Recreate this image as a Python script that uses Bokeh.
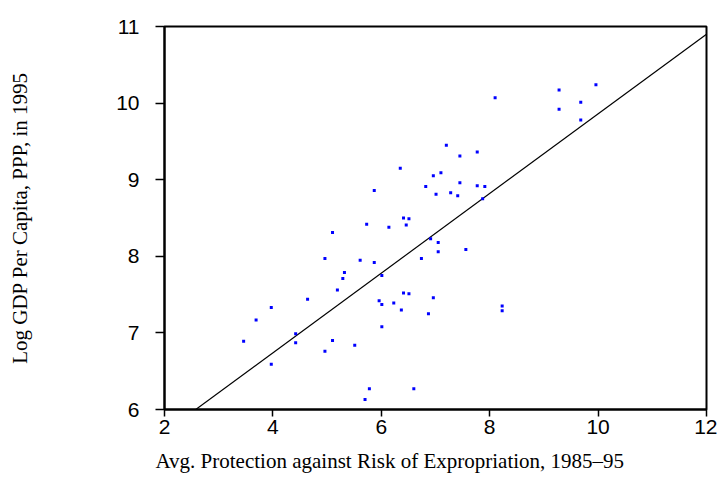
from bokeh.plotting import figure
from bokeh.models import Range1d, FixedTicker, Title
from bokeh.embed import file_html
from bokeh.resources import INLINE
import numpy as np

# Avg. protection against risk of expropriation, 1985-95
expropriation = [
    7.20, 6.35, 7.10, 6.96, 6.82, 7.01, 5.87, 6.41, 6.51, 8.10,
    9.96, 9.28, 9.68, 9.28, 9.68, 7.45, 7.77, 7.45, 7.77, 7.91,
    7.28, 7.41, 7.87, 5.73, 6.46, 6.14, 5.10, 6.91, 7.05, 7.05,
    4.96, 6.74, 5.61, 5.87, 5.32, 6.01, 5.29, 5.19, 4.64, 5.96,
    6.41, 6.51, 6.96, 6.01, 6.23, 3.97, 6.37, 6.87, 3.69, 6.01,
    4.42, 3.46, 5.10, 4.42, 5.51, 4.96, 3.97, 5.78, 6.60, 5.70,
    7.56, 8.23, 8.23,
]
# Log GDP per capita, PPP, in 1995
log_gdp = [
    9.45, 9.15, 9.09, 9.05, 8.91, 8.81, 8.86, 8.50, 8.49, 10.07,
    10.24, 10.17, 10.01, 9.92, 9.78, 9.31, 9.36, 8.96, 8.92, 8.91,
    8.83, 8.79, 8.75, 8.42, 8.41, 8.38, 8.31, 8.23, 8.18, 8.06,
    7.97, 7.97, 7.95, 7.92, 7.79, 7.75, 7.71, 7.56, 7.44, 7.42,
    7.52, 7.51, 7.46, 7.37, 7.39, 7.33, 7.30, 7.25, 7.17, 7.08,
    6.99, 6.89, 6.90, 6.87, 6.84, 6.76, 6.59, 6.27, 6.27, 6.13,
    8.09, 7.35, 7.29,
]
# OLS fitted line
fit_intercept = 4.66
fit_slope = 0.52

x_ticks = [2, 4, 6, 8, 10, 12]
y_ticks = [6, 7, 8, 9, 10, 11]

x_title = "Avg. Protection against Risk of Expropriation, 1985\u201395"
y_title = "Log GDP Per Capita, PPP, in 1995"

p = figure(width=717, height=496, output_backend="svg", toolbar_location=None,
           x_range=Range1d(min(x_ticks), max(x_ticks)),
           y_range=Range1d(min(y_ticks), max(y_ticks)),
           min_border_left=164, min_border_right=11,
           min_border_top=26, min_border_bottom=87)
p.grid.visible = False
p.background_fill_color = "white"
p.border_fill_color = "white"
p.outline_line_color = "black"
p.outline_line_width = 2

p.xaxis.ticker = FixedTicker(ticks=x_ticks)
p.yaxis.ticker = FixedTicker(ticks=y_ticks)
for ax in (p.xaxis, p.yaxis):
    ax.minor_tick_line_color = None
    ax.major_tick_in = 0
    ax.axis_line_width = 2
    ax.axis_line_color = "black"
    ax.major_tick_line_width = 1.5
    ax.major_tick_line_color = "black"
    ax.major_label_text_font = "Liberation Sans"
    ax.major_label_text_font_size = "21px"
    ax.major_label_text_color = "black"
    ax.axis_label_text_font = "Liberation Serif"
    ax.axis_label_text_font_size = "21px"
    ax.axis_label_text_font_style = "normal"
    ax.axis_label_text_color = "black"

p.xaxis.major_tick_out = 7
p.xaxis.major_label_standoff = 3
p.yaxis.major_tick_out = 9
p.yaxis.major_label_standoff = 16
p.yaxis.axis_label_standoff = 81
p.yaxis.axis_label = y_title

xt = Title(text=x_title, align="left", offset=-9, vertical_align="bottom",
           standoff=20, text_font="Liberation Serif", text_font_size="21px",
           text_font_style="normal", text_color="black")
p.add_layout(xt, "below")

line_x = np.array([min(x_ticks), max(x_ticks)], dtype=float)
line_y = fit_intercept + fit_slope * line_x
p.line(line_x, line_y, line_color="black", line_width=1.2)

p.scatter(expropriation, log_gdp, marker="square", size=3,
          fill_color="blue", line_color="blue", line_width=0)

open("out.html", "w").write(file_html(p, INLINE))
